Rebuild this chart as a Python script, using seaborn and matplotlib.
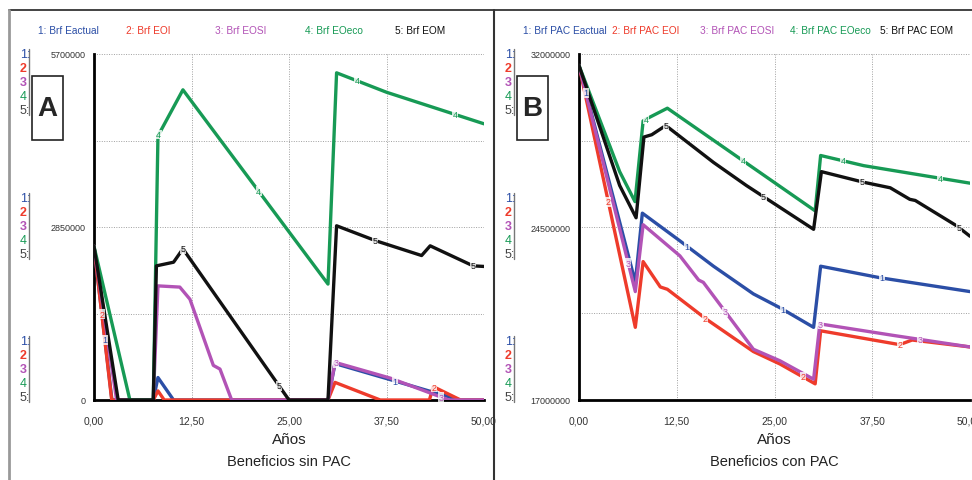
import numpy as np
import pandas as pd
import matplotlib
matplotlib.use("Agg")
import matplotlib.pyplot as plt
from matplotlib.patches import Rectangle
from matplotlib.lines import Line2D
import seaborn as sns

sns.set_style("white")
plt.rcParams["font.family"] = ["Liberation Sans Narrow", "Liberation Sans", "DejaVu Sans"]

W, H = 972, 481

# ---------------- data: Beneficios sin PAC (values in millions) ----------------
a_eactual_t = [0, 2.3, 7.6, 8.2, 10.2, 30.0, 30.9, 38.4, 46.9, 50]
a_eactual_v = [2.53, 0, 0, 0.37, 0, 0, 0.60, 0.32, 0.0, 0]
a_eoi_t = [0, 2.27, 7.6, 8.2, 9.0, 30.0, 30.9, 36.7, 43.0, 43.5, 47.0, 50]
a_eoi_v = [2.53, 0, 0, 0.15, 0, 0, 0.29, 0, 0, 0.22, 0, 0]
a_eosi_t = [0, 2.9, 7.6, 8.2, 11.0, 12.3, 15.3, 16.15, 17.65, 30.0, 30.9, 38.0, 45.5, 50]
a_eosi_v = [2.53, 0, 0, 1.88, 1.86, 1.66, 0.57, 0.51, 0, 0, 0.62, 0.36, 0.0, 0]
a_eoeco_t = [0, 4.6, 7.6, 8.2, 11.4, 30.0, 31.1, 37.5, 50]
a_eoeco_v = [2.53, 0, 0, 4.35, 5.11, 1.91, 5.39, 5.07, 4.55]
a_eom_t = [0, 3.1, 7.6, 8.0, 10.2, 11.4, 25.0, 30.0, 31.1, 36.2, 42.0, 43.1, 48.6, 50]
a_eom_v = [2.53, 0, 0, 2.21, 2.27, 2.49, 0, 0, 2.87, 2.62, 2.38, 2.54, 2.21, 2.20]

# ---------------- data: Beneficios con PAC (values in millions) ----------------
b_eactual_t = [0, 7.2, 8.1, 12.9, 17.2, 22.3, 25.7, 30.0, 30.9, 38.5, 50]
b_eactual_v = [31.5, 22.1, 25.1, 23.9, 22.8, 21.6, 21.0, 20.15, 22.8, 22.3, 21.7]
b_eoi_t = [0, 7.2, 8.2, 10.4, 11.3, 16.3, 22.3, 25.7, 30.2, 30.9, 41.0, 42.6, 50]
b_eoi_v = [31.5, 20.15, 23.0, 21.9, 21.8, 20.5, 19.1, 18.56, 17.7, 20.0, 19.4, 19.6, 19.3]
b_eosi_t = [0, 7.2, 8.2, 12.9, 15.3, 15.9, 22.3, 25.7, 30.0, 30.8, 40.2, 50]
b_eosi_v = [31.5, 21.7, 24.6, 23.25, 22.2, 22.1, 19.2, 18.7, 17.9, 20.3, 19.8, 19.3]
b_eoeco_t = [0, 5.2, 7.16, 8.2, 8.7, 11.3, 30.2, 30.9, 36.4, 50]
b_eoeco_v = [31.5, 26.9, 25.6, 29.1, 29.2, 29.65, 25.2, 27.6, 27.16, 26.4]
b_eom_t = [0, 5.2, 7.3, 8.3, 9.3, 11.1, 17.2, 21.4, 30.0, 31.0, 36.4, 39.8, 42.3, 43.0, 48.3, 50]
b_eom_v = [31.5, 26.3, 24.9, 28.4, 28.5, 28.9, 27.3, 26.3, 24.4, 26.9, 26.44, 26.2, 25.7, 25.65, 24.55, 24.1]

# positions (years) of the numbered markers along each curve
a_marks = {1: [1.4, 38.6], 2: [1.0, 43.6], 3: [31.0, 44.5], 4: [8.3, 21.1, 33.7, 46.3], 5: [11.4, 23.7, 36.0, 48.6]}
b_marks = {1: [0.9, 13.8, 26.1, 38.7], 2: [3.75, 16.1, 28.6, 41.0], 3: [6.3, 18.7, 30.9, 43.6],
           4: [8.6, 21.0, 33.8, 46.2], 5: [11.1, 23.6, 36.2, 48.6]}

a_names = ["1: Brf Eactual", "2: Brf EOI", "3: Brf EOSI", "4: Brf EOeco", "5: Brf EOM"]
b_names = ["1: Brf PAC Eactual", "2: Brf PAC EOI", "3: Brf PAC EOSI", "4: Brf PAC EOeco", "5: Brf PAC EOM"]
a_ticks = [0, 2850000, 5700000]
b_ticks = [17000000, 24500000, 32000000]
x_ticks = [0, 12.5, 25, 37.5, 50]
x_ticklabels = ["0,00", "12,50", "25,00", "37,50", "50,00"]

colors = ["#2b4ea6", "#ee3b2b", "#b253b6", "#179a55", "#111111"]


def long_frame(times, values):
    rows = []
    for k, (t, v) in enumerate(zip(times, values), start=1):
        for ti, vi in zip(t, v):
            rows.append({"serie": k, "anio": ti, "valor": vi * 1e6})
    return pd.DataFrame(rows)


a_df = long_frame([a_eactual_t, a_eoi_t, a_eosi_t, a_eoeco_t, a_eom_t],
                  [a_eactual_v, a_eoi_v, a_eosi_v, a_eoeco_v, a_eom_v])
b_df = long_frame([b_eactual_t, b_eoi_t, b_eosi_t, b_eoeco_t, b_eom_t],
                  [b_eactual_v, b_eoi_v, b_eosi_v, b_eoeco_v, b_eom_v])

fig = plt.figure(figsize=(W / 100, H / 100), dpi=100)


def fx(px):
    return px / W


def fy(py):
    return 1 - py / H


# outer frame lines
fig.add_artist(Line2D([fx(9), fx(972)], [fy(11), fy(11)], color="#222222", lw=1.2))
fig.add_artist(Line2D([fx(9), fx(9)], [fy(11), fy(481)], color="#999999", lw=2.0))
fig.add_artist(Line2D([fx(494), fx(494)], [fy(11), fy(481)], color="#333333", lw=1.5))


def panel(x0, x1, df, ticks, names, marks, letter, subtitle, leg_x):
    ax = fig.add_axes([fx(x0), fy(401), fx(x1) - fx(x0), fy(55) - fy(401)])
    for k in range(1, 6):
        d = df[df["serie"] == k]
        sns.lineplot(data=d, x="anio", y="valor", ax=ax, color=colors[k - 1], lw=2.4,
                     sort=False, estimator=None, legend=False, zorder=3 + k * 0.1)
        for t in marks.get(k, []):
            v = np.interp(t, d["anio"], d["valor"])
            ax.text(t, v, str(k), color=colors[k - 1], fontsize=6.5, ha="center", va="center",
                    zorder=5, bbox=dict(boxstyle="square,pad=0.05", fc="white", ec="none", alpha=0.8))
    lo, hi = ticks[0], ticks[-1]
    ax.set_xlim(0, 50)
    ax.set_ylim(lo, hi)
    yt = np.linspace(lo, hi, 5)
    ax.set_yticks(yt)
    ax.set_yticklabels([str(int(v)) if v in ticks else "" for v in yt])
    ax.set_xticks(x_ticks)
    ax.set_xticklabels(x_ticklabels)
    ax.grid(True, color="#a0a0a0", ls=(0, (1, 1.5)), lw=0.7)
    for s in ["top", "right"]:
        ax.spines[s].set_visible(False)
    for s in ["left", "bottom"]:
        ax.spines[s].set_linewidth(2.0)
        ax.spines[s].set_color("black")
    ax.tick_params(axis="y", direction="out", length=4, width=2.0, color="black",
                   labelsize=6.5, pad=2, labelcolor="#333333")
    ax.tick_params(axis="x", direction="out", length=6, width=2.0, color="black",
                   labelsize=7.5, pad=5, labelcolor="#333333")
    ax.set_xlabel("")
    ax.set_ylabel("")
    ax.margins(0)

    # legend line across the top
    for i, name in enumerate(names):
        fig.text(fx(leg_x[i]), fy(31), name, color=colors[i], fontsize=7.3, va="center", ha="left")

    # stacked series scale markers at the left
    lx = x0 - 74
    for gy in [55, 199, 342]:
        for i, lab in enumerate(["1:", "2", "3", "4", "5:"]):
            fig.text(fx(lx), fy(gy + i * 14), lab, color=colors[i] if i < 4 else "#444444",
                     fontsize=9, va="center", ha="left", fontweight="bold" if i in (1, 2) else "normal")
        fig.add_artist(Line2D([fx(lx + 9), fx(lx + 9)], [fy(gy - 5), fy(gy + 61)], color="#777777", lw=1.0))

    # panel letter box
    bx0 = x0 - 62
    fig.add_artist(Rectangle((fx(bx0), fy(141)), fx(31), fy(77) - fy(141), fill=False,
                             ec="#222222", lw=1.2, transform=fig.transFigure))
    fig.text(fx(bx0 + 15.5), fy(109), letter, fontsize=20, fontweight="bold", ha="center", va="center")

    cx = (x0 + x1) / 2
    fig.text(fx(cx), fy(440), "Años", fontsize=11, ha="center", va="center", color="#222222")
    fig.text(fx(cx), fy(462), subtitle, fontsize=10.5, ha="center", va="center", color="#222222")
    return ax


panel(94, 484, a_df, a_ticks, a_names, a_marks, "A", "Beneficios sin PAC",
      [38, 126, 215, 305, 395])
panel(579, 970, b_df, b_ticks, b_names, b_marks, "B", "Beneficios con PAC",
      [523, 612, 700, 790, 880])

fig.savefig("out.png", dpi=100)
